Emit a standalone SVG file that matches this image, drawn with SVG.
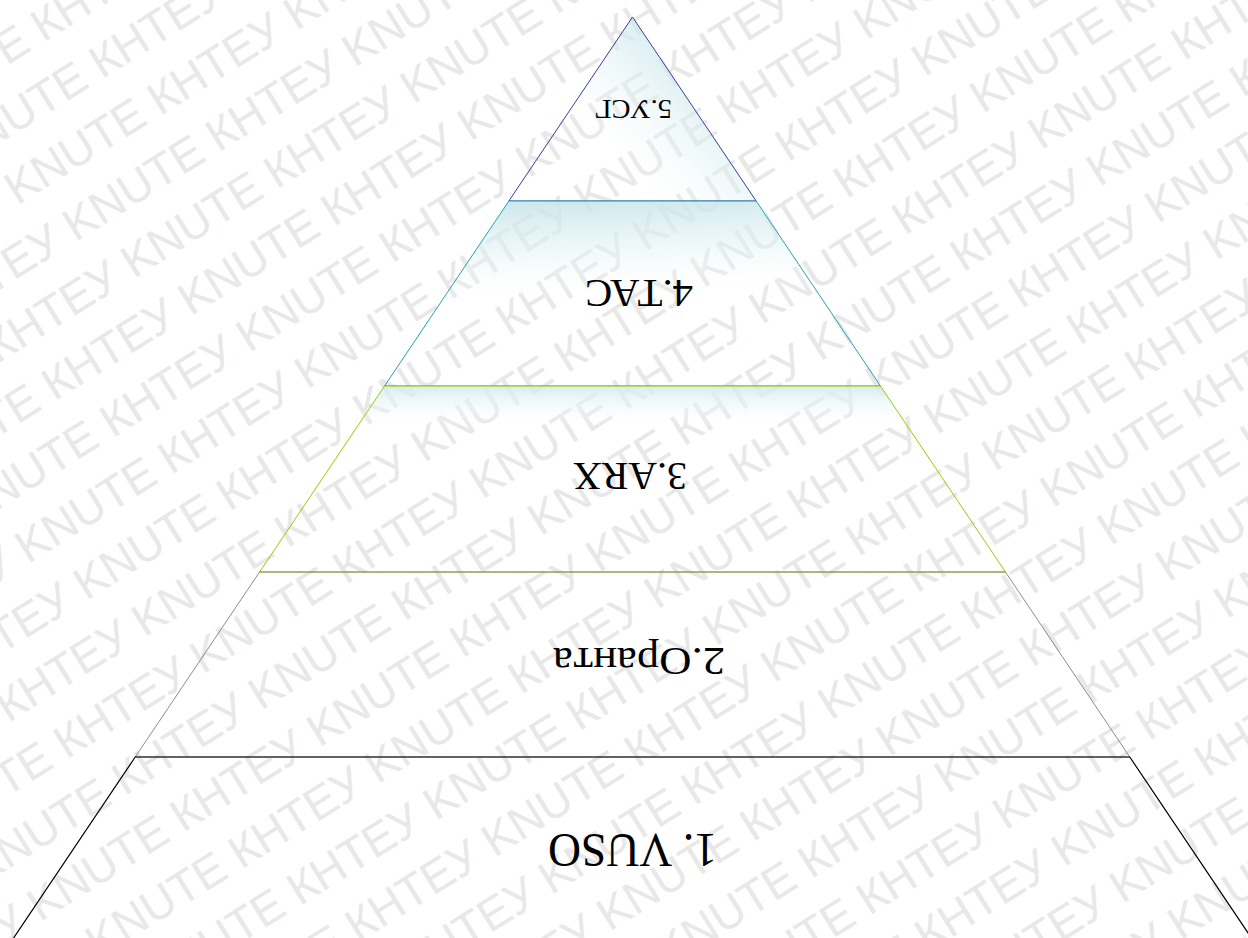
<svg xmlns="http://www.w3.org/2000/svg" width="1248" height="938" viewBox="0 0 1248 938">
<style>
.wm{font-family:"Liberation Sans","DejaVu Sans",sans-serif;font-size:46px;fill:#e8e8e8}
.lbl{font-family:"Liberation Serif","Noto Sans CJK SC",serif;fill:#000;text-anchor:middle}
.lv{stroke-linejoin:miter}
</style>
<defs>
<linearGradient id="g5" x1="1" y1="0.25" x2="0.35" y2="0.75">
<stop offset="0" stop-color="#bfe2e7" stop-opacity="0.95"/>
<stop offset="0.45" stop-color="#d6edf0" stop-opacity="0.6"/>
<stop offset="1" stop-color="#ffffff" stop-opacity="0"/>
</linearGradient>
<linearGradient id="g4" x1="0.2" y1="0" x2="0.3" y2="1">
<stop offset="0" stop-color="#c6e4e9" stop-opacity="0.9"/>
<stop offset="0.25" stop-color="#dcf0f2" stop-opacity="0.55"/>
<stop offset="0.55" stop-color="#ffffff" stop-opacity="0"/>
</linearGradient>
<linearGradient id="g3" x1="0" y1="0" x2="0" y2="1">
<stop offset="0" stop-color="#d3ebee" stop-opacity="0.9"/>
<stop offset="0.22" stop-color="#ffffff" stop-opacity="0"/>
</linearGradient>
</defs>
<rect x="0" y="0" width="1248" height="938" fill="#ffffff"/>
<g id="watermark" transform="rotate(-32 624 469)">
<text class="wm" x="-500" y="-262">KNUTE КНТЕУ KNUTE КНТЕУ KNUTE КНТЕУ KNUTE КНТЕУ KNUTE КНТЕУ KNUTE КНТЕУ KNUTE КНТЕУ</text>
<text class="wm" x="-470" y="-200">KNUTE КНТЕУ KNUTE КНТЕУ KNUTE КНТЕУ KNUTE КНТЕУ KNUTE КНТЕУ KNUTE КНТЕУ KNUTE КНТЕУ</text>
<text class="wm" x="-440" y="-138">KNUTE КНТЕУ KNUTE КНТЕУ KNUTE КНТЕУ KNUTE КНТЕУ KNUTE КНТЕУ KNUTE КНТЕУ KNUTE КНТЕУ</text>
<text class="wm" x="-410" y="-76">KNUTE КНТЕУ KNUTE КНТЕУ KNUTE КНТЕУ KNUTE КНТЕУ KNUTE КНТЕУ KNUTE КНТЕУ KNUTE КНТЕУ</text>
<text class="wm" x="-380" y="-14">KNUTE КНТЕУ KNUTE КНТЕУ KNUTE КНТЕУ KNUTE КНТЕУ KNUTE КНТЕУ KNUTE КНТЕУ KNUTE КНТЕУ</text>
<text class="wm" x="-350" y="48">KNUTE КНТЕУ KNUTE КНТЕУ KNUTE КНТЕУ KNUTE КНТЕУ KNUTE КНТЕУ KNUTE КНТЕУ KNUTE КНТЕУ</text>
<text class="wm" x="-651" y="110">KNUTE КНТЕУ KNUTE КНТЕУ KNUTE КНТЕУ KNUTE КНТЕУ KNUTE КНТЕУ KNUTE КНТЕУ KNUTE КНТЕУ</text>
<text class="wm" x="-621" y="172">KNUTE КНТЕУ KNUTE КНТЕУ KNUTE КНТЕУ KNUTE КНТЕУ KNUTE КНТЕУ KNUTE КНТЕУ KNUTE КНТЕУ</text>
<text class="wm" x="-591" y="234">KNUTE КНТЕУ KNUTE КНТЕУ KNUTE КНТЕУ KNUTE КНТЕУ KNUTE КНТЕУ KNUTE КНТЕУ KNUTE КНТЕУ</text>
<text class="wm" x="-561" y="296">KNUTE КНТЕУ KNUTE КНТЕУ KNUTE КНТЕУ KNUTE КНТЕУ KNUTE КНТЕУ KNUTE КНТЕУ KNUTE КНТЕУ</text>
<text class="wm" x="-531" y="358">KNUTE КНТЕУ KNUTE КНТЕУ KNUTE КНТЕУ KNUTE КНТЕУ KNUTE КНТЕУ KNUTE КНТЕУ KNUTE КНТЕУ</text>
<text class="wm" x="-501" y="420">KNUTE КНТЕУ KNUTE КНТЕУ KNUTE КНТЕУ KNUTE КНТЕУ KNUTE КНТЕУ KNUTE КНТЕУ KNUTE КНТЕУ</text>
<text class="wm" x="-471" y="482">KNUTE КНТЕУ KNUTE КНТЕУ KNUTE КНТЕУ KNUTE КНТЕУ KNUTE КНТЕУ KNUTE КНТЕУ KNUTE КНТЕУ</text>
<text class="wm" x="-441" y="544">KNUTE КНТЕУ KNUTE КНТЕУ KNUTE КНТЕУ KNUTE КНТЕУ KNUTE КНТЕУ KNUTE КНТЕУ KNUTE КНТЕУ</text>
<text class="wm" x="-411" y="606">KNUTE КНТЕУ KNUTE КНТЕУ KNUTE КНТЕУ KNUTE КНТЕУ KNUTE КНТЕУ KNUTE КНТЕУ KNUTE КНТЕУ</text>
<text class="wm" x="-381" y="668">KNUTE КНТЕУ KNUTE КНТЕУ KNUTE КНТЕУ KNUTE КНТЕУ KNUTE КНТЕУ KNUTE КНТЕУ KNUTE КНТЕУ</text>
<text class="wm" x="-351" y="730">KNUTE КНТЕУ KNUTE КНТЕУ KNUTE КНТЕУ KNUTE КНТЕУ KNUTE КНТЕУ KNUTE КНТЕУ KNUTE КНТЕУ</text>
<text class="wm" x="-652" y="792">KNUTE КНТЕУ KNUTE КНТЕУ KNUTE КНТЕУ KNUTE КНТЕУ KNUTE КНТЕУ KNUTE КНТЕУ KNUTE КНТЕУ</text>
<text class="wm" x="-622" y="854">KNUTE КНТЕУ KNUTE КНТЕУ KNUTE КНТЕУ KNUTE КНТЕУ KNUTE КНТЕУ KNUTE КНТЕУ KNUTE КНТЕУ</text>
<text class="wm" x="-592" y="916">KNUTE КНТЕУ KNUTE КНТЕУ KNUTE КНТЕУ KNUTE КНТЕУ KNUTE КНТЕУ KNUTE КНТЕУ KNUTE КНТЕУ</text>
<text class="wm" x="-562" y="978">KNUTE КНТЕУ KNUTE КНТЕУ KNUTE КНТЕУ KNUTE КНТЕУ KNUTE КНТЕУ KNUTE КНТЕУ KNUTE КНТЕУ</text>
<text class="wm" x="-532" y="1040">KNUTE КНТЕУ KNUTE КНТЕУ KNUTE КНТЕУ KNUTE КНТЕУ KNUTE КНТЕУ KNUTE КНТЕУ KNUTE КНТЕУ</text>
<text class="wm" x="-502" y="1102">KNUTE КНТЕУ KNUTE КНТЕУ KNUTE КНТЕУ KNUTE КНТЕУ KNUTE КНТЕУ KNUTE КНТЕУ KNUTE КНТЕУ</text>
<text class="wm" x="-472" y="1164">KNUTE КНТЕУ KNUTE КНТЕУ KNUTE КНТЕУ KNUTE КНТЕУ KNUTE КНТЕУ KNUTE КНТЕУ KNUTE КНТЕУ</text>
<text class="wm" x="-442" y="1226">KNUTE КНТЕУ KNUTE КНТЕУ KNUTE КНТЕУ KNUTE КНТЕУ KNUTE КНТЕУ KNUTE КНТЕУ KNUTE КНТЕУ</text>
</g>
<g id="connectors"></g>
<g id="level5" class="lv">
<polygon points="632.5,17 756.15,201 508.85,201" fill="url(#g5)" stroke="#3b3b9c" stroke-width="1"/>
<text class="lbl" x="633.5" y="117.3" font-size="27" textLength="77" lengthAdjust="spacingAndGlyphs" transform="rotate(180 633.5 108.5)">5.УСГ</text>
</g>
<g id="level4" class="lv">
<polygon points="508.85,201 756.15,201 880.47,386 384.53,386" fill="url(#g4)" stroke="#25a3ad" stroke-width="1"/>
<text class="lbl" x="639" y="306.9" font-size="41" textLength="108" lengthAdjust="spacingAndGlyphs" transform="rotate(180 639 293.5)">4.ТАС</text>
</g>
<g id="level3" class="lv">
<polygon points="384.53,386 880.47,386 1005.46,572 259.54,572" fill="url(#g3)" stroke="#99cc00" stroke-width="1"/>
<text class="lbl" x="630" y="489.9" font-size="41" textLength="114" lengthAdjust="spacingAndGlyphs" transform="rotate(180 630 476.5)">3.ARX</text>
</g>
<g id="level2" class="lv">
<polygon points="259.54,572 1005.46,572 1129.78,757 135.22,757" fill="none" stroke="#7f7f7f" stroke-width="0.9"/>
<text class="lbl" x="639" y="674.1" font-size="40" textLength="172" lengthAdjust="spacingAndGlyphs" transform="rotate(180 639 661)">2.Оранта</text>
</g>
<g id="level1" class="lv">
<polygon points="135.22,757 1129.78,757 1266.2,960 -1.2,960" fill="none" stroke="#000000" stroke-width="1.2"/>
<text class="lbl" x="632.5" y="865.5" font-size="49" textLength="169" lengthAdjust="spacingAndGlyphs" transform="rotate(180 632.5 849.5)">1. VUSO</text>
</g>
</svg>
